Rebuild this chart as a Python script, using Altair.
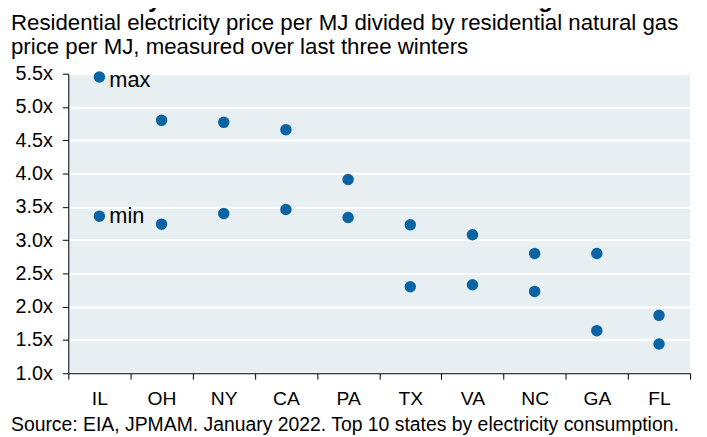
import altair as alt
import pandas as pd

# ---- data ----
states = ["IL", "OH", "NY", "CA", "PA", "TX", "VA", "NC", "GA", "FL"]
max_vals = [5.45, 4.80, 4.77, 4.66, 3.91, 3.23, 3.08, 2.80, 2.80, 1.87]
min_vals = [3.36, 3.24, 3.40, 3.46, 3.34, 2.30, 2.33, 2.23, 1.64, 1.44]
y_ticks = [1.0, 1.5, 2.0, 2.5, 3.0, 3.5, 4.0, 4.5, 5.0, 5.5]

title_text = "US electricity costs 2x to 5x more than natural gas"
subtitle_1 = "Residential electricity price per MJ divided by residential natural gas"
subtitle_2 = "price per MJ, measured over last three winters"
source_text = "Source: EIA, JPMAM. January 2022. Top 10 states by electricity consumption."

FONT = "Liberation Sans"
BLUE = "#0a64a4"

rows = []
for s, mx, mn in zip(states, max_vals, min_vals):
    rows.append({"state": s, "value": mx, "kind": "max"})
    rows.append({"state": s, "value": mn, "kind": "min"})
df = pd.DataFrame(rows)

ann_max = pd.DataFrame({"state": [states[0]], "value": [max_vals[0]], "label": ["max"]})
ann_min = pd.DataFrame({"state": [states[0]], "value": [min_vals[0]], "label": ["min"]})

x_enc = alt.X(
    "state:N",
    sort=states,
    scale=alt.Scale(type="band", paddingInner=0, paddingOuter=0),
    axis=alt.Axis(
        title=None,
        labelAngle=0,
        tickBand="extent",
        domainColor="black",
        tickColor="black",
        tickSize=6,
        labelPadding=11,
        labelFontSize=19.5,
        labelColor="black",
        grid=False,
    ),
)
y_enc = alt.Y(
    "value:Q",
    scale=alt.Scale(domain=[1, 5.5], nice=False, zero=False),
    axis=alt.Axis(
        title=None,
        values=y_ticks,
        tickCount=10,
        labelExpr="format(datum.value, '.1f') + 'x'",
        labelOverlap=False,
        labelBound=False,
        gridColor="white",
        gridWidth=2,
        domainColor="black",
        tickColor="black",
        tickSize=6,
        labelPadding=10,
        labelFontSize=20,
        labelColor="black",
    ),
)

points = alt.Chart(df).mark_circle(size=135, color=BLUE, opacity=1).encode(x=x_enc, y=y_enc)

txt_max = alt.Chart(ann_max).mark_text(
    align="left", baseline="alphabetic", dx=10, dy=10, fontSize=22, color="black"
).encode(x=x_enc, y=y_enc, text="label:N")

txt_min = alt.Chart(ann_min).mark_text(
    align="left", baseline="alphabetic", dx=10, dy=6.5, fontSize=22, color="black"
).encode(x=x_enc, y=y_enc, text="label:N")


def free_text(t, x, y, size, weight="normal"):
    return alt.Chart(pd.DataFrame({"t": [t]})).mark_text(
        align="left", baseline="alphabetic", fontSize=size, fontWeight=weight, color="black"
    ).encode(x=alt.value(x), y=alt.value(y), text="t:N")


title_mark = free_text(title_text, -58, -67.5, 24, "bold")
sub1_mark = free_text(subtitle_1, -58, -44.7, 22.5)
sub2_mark = free_text(subtitle_2, -58, -20, 22.5)
source_mark = free_text(source_text, -58, 361, 19.6)

chart = (
    alt.layer(points, txt_max, txt_min, title_mark, sub1_mark, sub2_mark, source_mark)
    .properties(
        width=629,
        height=303,
        padding={"left": 61, "top": 64, "right": 9, "bottom": 62},
        autosize=alt.AutoSizeParams(type="none"),
        background="white",
    )
    .configure(font=FONT)
    .configure_view(fill="#e7eff2", strokeWidth=0)
)

chart.save("out.html", embed_options={"renderer": "svg", "actions": False})
